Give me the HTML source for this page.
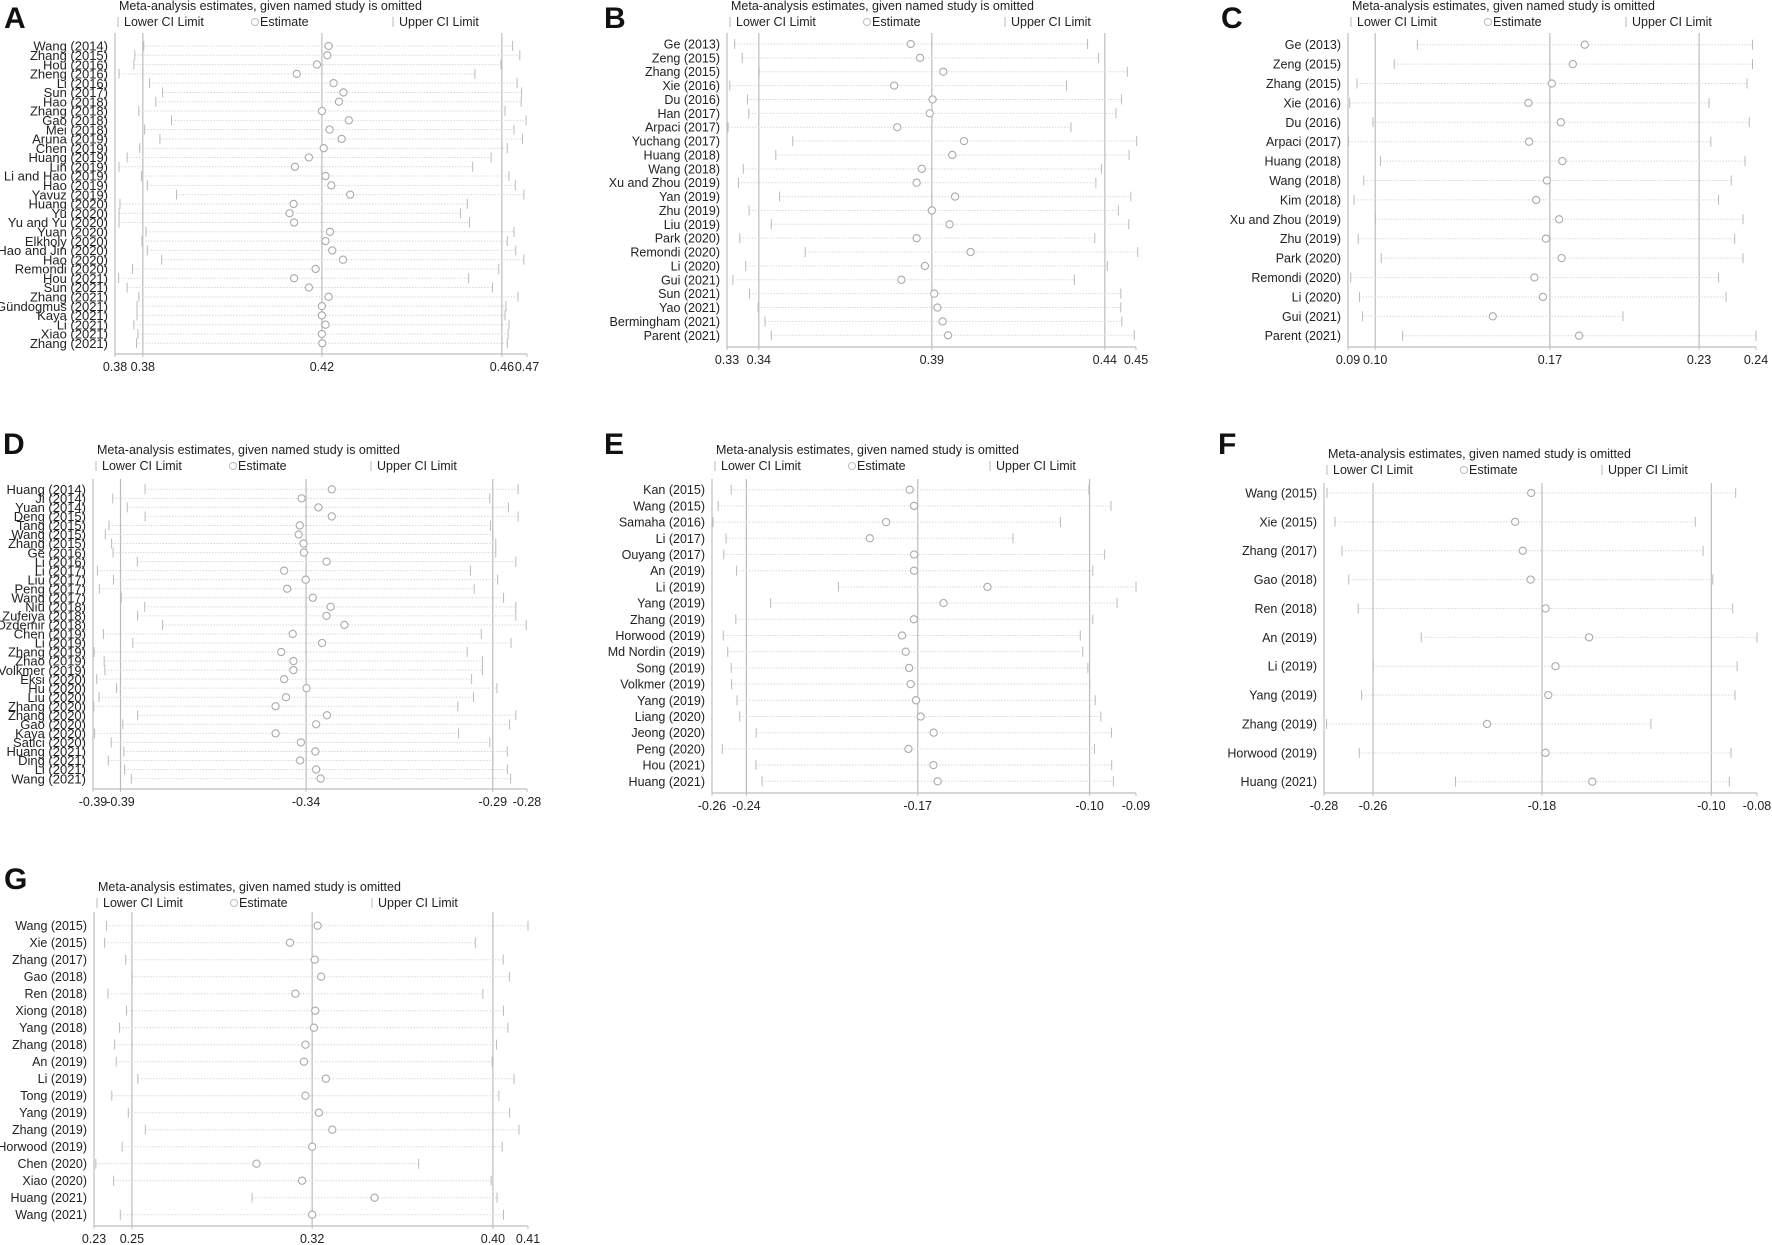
<!DOCTYPE html>
<html><head><meta charset="utf-8"><style>
html,body{margin:0;padding:0;background:#fff;}
svg{display:block;font-family:"Liberation Sans",Arial,sans-serif;}
</style></head><body>
<svg id="fig" width="1772" height="1245" viewBox="0 0 1772 1245" xmlns="http://www.w3.org/2000/svg"></svg>
<script>
// ---------- Panel A ----------
const aNames=["Wang (2014)","Zhang (2015)","Hou (2016)","Zheng (2016)","Li (2016)","Sun (2017)","Hao (2018)","Zhang (2018)","Gao (2018)","Mei (2018)","Aruna (2019)","Chen (2019)","Huang (2019)","Lin (2019)","Li and Hao (2019)","Hao (2019)","Yavuz (2019)","Huang (2020)","Yu (2020)","Yu and Yu (2020)","Yuan (2020)","Elkholy (2020)","Hao and Jin (2020)","Hao (2020)","Remondi (2020)","Hou (2021)","Sun (2021)","Zhang (2021)","Gündogmus (2021)","Kaya (2021)","Li (2021)","Xiao (2021)","Zhang (2021)"];
const aEst=[0.4215,0.4212,0.4189,0.4144,0.4226,0.4248,0.4238,0.4200,0.4260,0.4217,0.4244,0.4204,0.4171,0.4140,0.4208,0.4221,0.4263,0.4137,0.4128,0.4138,0.4218,0.4208,0.4223,0.4247,0.4186,0.4138,0.4171,0.4215,0.4200,0.4200,0.4208,0.4200,0.4201];
const aLo=[0.3803,0.3783,0.3781,0.3748,0.3816,0.3845,0.3830,0.3792,0.3865,0.3805,0.3839,0.3794,0.3766,0.3748,0.3798,0.3811,0.3876,0.3750,0.3748,0.3748,0.3808,0.3799,0.3811,0.3843,0.3778,0.3747,0.3766,0.3792,0.3788,0.3788,0.3781,0.3790,0.3787];
const aHi=[0.4625,0.4641,0.4599,0.4541,0.4635,0.4645,0.4644,0.4608,0.4655,0.4628,0.4647,0.4613,0.4577,0.4536,0.4617,0.4631,0.4650,0.4524,0.4509,0.4529,0.4628,0.4613,0.4632,0.4650,0.4594,0.4527,0.4580,0.4637,0.4610,0.4608,0.4617,0.4615,0.4613];
const aTicks=[0.3739,0.3801,0.4200,0.4601,0.4657];
const aTickLabels=["0.38","0.38","0.42","0.46","0.47"];
// ---------- Panel B ----------
const bNames=["Ge (2013)","Zeng (2015)","Zhang (2015)","Xie (2016)","Du (2016)","Han (2017)","Arpaci (2017)","Yuchang (2017)","Huang (2018)","Wang (2018)","Xu and Zhou (2019)","Yan (2019)","Zhu (2019)","Liu (2019)","Park (2020)","Remondi (2020)","Li (2020)","Gui (2021)","Sun (2021)","Yao (2021)","Bermingham (2021)","Parent (2021)"];
const bEst=[0.3839,0.3866,0.3933,0.3791,0.3902,0.3894,0.3800,0.3993,0.3959,0.3871,0.3856,0.3967,0.3900,0.3951,0.3856,0.4012,0.3880,0.3812,0.3907,0.3916,0.3931,0.3947];
const bLo=[0.3330,0.3352,0.3401,0.3316,0.3367,0.3371,0.3311,0.3498,0.3449,0.3355,0.3341,0.3460,0.3372,0.3436,0.3345,0.3534,0.3362,0.3325,0.3373,0.3398,0.3418,0.3436];
const bHi=[0.4350,0.4382,0.4465,0.4289,0.4448,0.4432,0.4302,0.4492,0.4470,0.4390,0.4374,0.4475,0.4439,0.4469,0.4371,0.4495,0.4407,0.4312,0.4446,0.4446,0.4449,0.4485];
const bTicks=[0.3308,0.3400,0.3900,0.4400,0.4490];
const bTickLabels=["0.33","0.34","0.39","0.44","0.45"];
// ---------- Panel C ----------
const cNames=["Ge (2013)","Zeng (2015)","Zhang (2015)","Xie (2016)","Du (2016)","Arpaci (2017)","Huang (2018)","Wang (2018)","Kim (2018)","Xu and Zhou (2019)","Zhu (2019)","Park (2020)","Remondi (2020)","Li (2020)","Gui (2021)","Parent (2021)"];
const cEst=[0.1840,0.1792,0.1708,0.1614,0.1744,0.1617,0.1750,0.1688,0.1645,0.1737,0.1684,0.1747,0.1638,0.1672,0.1471,0.1817];
const cLo=[0.1169,0.1076,0.0927,0.0898,0.0991,0.0893,0.1021,0.0954,0.0915,0.1001,0.0932,0.1024,0.0902,0.0937,0.0949,0.1110];
const cHi=[0.2512,0.2512,0.2490,0.2338,0.2499,0.2345,0.2482,0.2427,0.2376,0.2474,0.2441,0.2474,0.2376,0.2406,0.1993,0.2526];
const cTicks=[0.0891,0.1000,0.1700,0.2298,0.2526];
const cTickLabels=["0.09","0.10","0.17","0.23","0.24"];
// ---------- Panel D ----------
const dNames=["Huang (2014)","Ji (2014)","Yuan (2014)","Deng (2015)","Tang (2015)","Wang (2015)","Zhang (2015)","Ge (2016)","Li (2016)","Li (2017)","Liu (2017)","Peng (2017)","Wang (2017)","Niu (2018)","Zufeiya (2018)","Ozdemir (2018)","Chen (2019)","Li (2019)","Zhang (2019)","Zhao (2019)","Volkmer (2019)","Eksi (2020)","Hu (2020)","Liu (2020)","Zhang (2020)","Zhang (2020)","Gao (2020)","Kaya (2020)","Satici (2020)","Huang (2021)","Ding (2021)","Li (2021)","Wang (2021)"];
const dEst=[-0.3331,-0.3412,-0.3367,-0.3331,-0.3417,-0.3420,-0.3407,-0.3406,-0.3345,-0.3459,-0.3401,-0.3451,-0.3382,-0.3334,-0.3345,-0.3297,-0.3436,-0.3357,-0.3467,-0.3434,-0.3434,-0.3459,-0.3399,-0.3454,-0.3482,-0.3344,-0.3373,-0.3482,-0.3414,-0.3375,-0.3416,-0.3373,-0.3361];
const dLo=[-0.3833,-0.3920,-0.3881,-0.3833,-0.3930,-0.3940,-0.3923,-0.3919,-0.3854,-0.3961,-0.3918,-0.3956,-0.3897,-0.3834,-0.3853,-0.3786,-0.3945,-0.3866,-0.3970,-0.3943,-0.3941,-0.3963,-0.3910,-0.3957,-0.3971,-0.3853,-0.3893,-0.3969,-0.3924,-0.3890,-0.3932,-0.3888,-0.3870];
const dHi=[-0.2830,-0.2906,-0.2856,-0.2830,-0.2904,-0.2898,-0.2890,-0.2890,-0.2836,-0.2958,-0.2885,-0.2948,-0.2869,-0.2836,-0.2836,-0.2808,-0.2929,-0.2849,-0.2967,-0.2926,-0.2926,-0.2955,-0.2887,-0.2950,-0.2992,-0.2836,-0.2853,-0.2990,-0.2906,-0.2859,-0.2898,-0.2859,-0.2850];
const dTicks=[-0.3973,-0.3899,-0.3400,-0.2898,-0.2806];
const dTickLabels=["-0.39","-0.39","-0.34","-0.29","-0.28"];
// ---------- Panel E ----------
const eNames=["Kan (2015)","Wang (2015)","Samaha (2016)","Li (2017)","Ouyang (2017)","An (2019)","Li (2019)","Yang (2019)","Zhang (2019)","Horwood (2019)","Md Nordin (2019)","Song (2019)","Volkmer (2019)","Yang (2019)","Liang (2020)","Jeong (2020)","Peng (2020)","Hou (2021)","Huang (2021)"];
const eEst=[-0.1733,-0.1715,-0.1829,-0.1895,-0.1715,-0.1715,-0.1416,-0.1595,-0.1716,-0.1764,-0.1749,-0.1735,-0.1729,-0.1707,-0.1688,-0.1635,-0.1738,-0.1636,-0.1619];
const eLo=[-0.2460,-0.2513,-0.2534,-0.2481,-0.2490,-0.2438,-0.2023,-0.2299,-0.2441,-0.2492,-0.2474,-0.2460,-0.2458,-0.2436,-0.2425,-0.2358,-0.2496,-0.2359,-0.2334];
const eHi=[-0.1003,-0.0913,-0.1119,-0.1312,-0.0939,-0.0987,-0.0811,-0.0888,-0.0987,-0.1038,-0.1028,-0.1007,-0.1000,-0.0977,-0.0954,-0.0911,-0.0980,-0.0910,-0.0903];
const eTicks=[-0.2538,-0.2398,-0.1700,-0.1000,-0.0811];
const eTickLabels=["-0.26","-0.24","-0.17","-0.10","-0.09"];
// ---------- Panel F ----------
const fNames=["Wang (2015)","Xie (2015)","Zhang (2017)","Gao (2018)","Ren (2018)","An (2019)","Li (2019)","Yang (2019)","Zhang (2019)","Horwood (2019)","Huang (2021)"];
const fEst=[-0.1851,-0.1927,-0.1891,-0.1854,-0.1783,-0.1577,-0.1736,-0.1770,-0.2060,-0.1783,-0.1562];
const fLo=[-0.2817,-0.2779,-0.2746,-0.2714,-0.2669,-0.2371,-0.2598,-0.2653,-0.2819,-0.2664,-0.2209];
const fHi=[-0.0884,-0.1075,-0.1038,-0.0992,-0.0898,-0.0783,-0.0877,-0.0887,-0.1285,-0.0906,-0.0914];
const fTicks=[-0.2831,-0.2599,-0.1800,-0.0999,-0.0783];
const fTickLabels=["-0.28","-0.26","-0.18","-0.10","-0.08"];
// ---------- Panel G ----------
const gNames=["Wang (2015)","Xie (2015)","Zhang (2017)","Gao (2018)","Ren (2018)","Xiong (2018)","Yang (2018)","Zhang (2018)","An (2019)","Li (2019)","Tong (2019)","Yang (2019)","Zhang (2019)","Horwood (2019)","Chen (2020)","Xiao (2020)","Huang (2021)","Wang (2021)"];
const gEst=[0.3221,0.3114,0.3210,0.3235,0.3135,0.3212,0.3207,0.3174,0.3168,0.3253,0.3174,0.3226,0.3278,0.3200,0.2984,0.3161,0.3442,0.3200];
const gLo=[0.2402,0.2395,0.2477,0.2502,0.2408,0.2480,0.2453,0.2434,0.2440,0.2524,0.2423,0.2487,0.2553,0.2463,0.2361,0.2430,0.2967,0.2456];
const gHi=[0.4037,0.3833,0.3941,0.3965,0.3862,0.3942,0.3959,0.3915,0.3898,0.3983,0.3924,0.3966,0.4002,0.3937,0.3613,0.3894,0.3917,0.3942];
const gTicks=[0.2354,0.2501,0.3200,0.3901,0.4037];
const gTickLabels=["0.23","0.25","0.32","0.40","0.41"];

const panels=[
 {id:"a",letter:"A",lx:4,ly:28,axL:115,axR:527,axY:354,top:33,titleY:10,legY:26,row0:46,step:9.29,fs:13,names:aNames,lo:aLo,est:aEst,hi:aHi,ticks:aTicks,tl:aTickLabels},
 {id:"b",letter:"B",lx:604,ly:28,axL:727,axR:1136,axY:347,top:33,titleY:10,legY:26,row0:44,step:13.87,fs:12.5,names:bNames,lo:bLo,est:bEst,hi:bHi,ticks:bTicks,tl:bTickLabels},
 {id:"c",letter:"C",lx:1221,ly:28,axL:1348,axR:1756,axY:347,top:33,titleY:10,legY:26,row0:44.7,step:19.4,fs:12.5,names:cNames,lo:cLo,est:cEst,hi:cHi,ticks:cTicks,tl:cTickLabels},
 {id:"d",letter:"D",lx:3,ly:454,axL:93,axR:527,axY:789,top:479,titleY:454,legY:470,row0:489.3,step:9.04,fs:13,names:dNames,lo:dLo,est:dEst,hi:dHi,ticks:dTicks,tl:dTickLabels},
 {id:"e",letter:"E",lx:604,ly:454,axL:712,axR:1136,axY:793,top:479,titleY:454,legY:470,row0:489.7,step:16.2,fs:12.5,names:eNames,lo:eLo,est:eEst,hi:eHi,ticks:eTicks,tl:eTickLabels},
 {id:"f",letter:"F",lx:1218,ly:454,axL:1324,axR:1757,axY:793,top:483,titleY:458,legY:474,row0:493,step:28.87,fs:12.5,names:fNames,lo:fLo,est:fEst,hi:fHi,ticks:fTicks,tl:fTickLabels},
 {id:"g",letter:"G",lx:4,ly:889,axL:94,axR:528,axY:1226,top:912,titleY:891,legY:907,row0:925.7,step:17.0,fs:12.5,names:gNames,lo:gLo,est:gEst,hi:gHi,ticks:gTicks,tl:gTickLabels}
];

const svg=document.getElementById('fig');
const NS="http://www.w3.org/2000/svg";
function mk(tag,attrs,parent){const e=document.createElementNS(NS,tag);for(const k in attrs)e.setAttribute(k,attrs[k]);parent.appendChild(e);return e;}

panels.forEach(p=>{
  const g=mk('g',{},svg);
  
  
  const dmin=p.ticks[0],dmax=p.ticks[4];
  const x=v=>p.axL+(v-dmin)/(dmax-dmin)*(p.axR-p.axL);
  const y=i=>p.row0+i*p.step;
  const L=mk('text',{x:p.lx,y:p.ly,'font-size':30,'font-weight':'bold',fill:'#111'},g);L.textContent=p.letter;
  
  
  const T=mk('text',{x:p.axL+4,y:p.titleY,'font-size':12.5,fill:'#222'},g);T.textContent="Meta-analysis estimates, given named study is omitted";
  
  
  const lg=mk('g',{},g);
  
  
  const lb=p.axL+3, lc=p.axL+140, lu=p.axL+278;
  mk('line',{x1:lb,x2:lb,y1:p.legY-9,y2:p.legY+1,stroke:'#bbb','stroke-width':1},lg);
  let t=mk('text',{x:lb+6,y:p.legY,'font-size':12.5,fill:'#222'},lg);t.textContent="Lower CI Limit";
  
  
  mk('circle',{cx:lc,cy:p.legY-4,r:3.5,fill:'none',stroke:'#bbb','stroke-width':1},lg);
  t=mk('text',{x:lc+5,y:p.legY,'font-size':12.5,fill:'#222'},lg);t.textContent="Estimate";
  
  
  mk('line',{x1:lu,x2:lu,y1:p.legY-9,y2:p.legY+1,stroke:'#bbb','stroke-width':1},lg);
  t=mk('text',{x:lu+6,y:p.legY,'font-size':12.5,fill:'#222'},lg);t.textContent="Upper CI Limit";
  
  
  const ax=mk('line',{x1:p.axL,x2:p.axL,y1:p.top,y2:p.axY,stroke:'#bdbdbd','stroke-width':1.2},g);
  
  
  const bx=mk('line',{x1:p.axL,x2:p.axR,y1:p.axY,y2:p.axY,stroke:'#bdbdbd','stroke-width':1.2},g);
  
  
  [1,2,3].forEach(k=>{
    const r=mk('line',{x1:x(p.ticks[k]),x2:x(p.ticks[k]),y1:p.top,y2:p.axY,stroke:'#bcbcbc','stroke-width':1.2},g);
    
    
  });
  p.ticks.forEach((v,k)=>{
    mk('line',{x1:x(v),x2:x(v),y1:p.axY,y2:p.axY+3,stroke:'#bdbdbd'},g);
    const tt=mk('text',{x:x(v),y:p.axY+17,'font-size':12.5,fill:'#222','text-anchor':'middle'},g);
    tt.textContent=p.tl[k];
    
    
  });
  p.names.forEach((n,i)=>{
    const yy=y(i);
    const lab=mk('text',{x:p.axL-7,y:yy+p.fs*0.36,'font-size':p.fs,fill:'#222','text-anchor':'end'},g);
    lab.textContent=n;
    
    
    const ln=mk('line',{x1:x(p.lo[i]),x2:x(p.hi[i]),y1:yy,y2:yy,stroke:'#d8d8d8','stroke-width':1,'stroke-dasharray':'1.5,1.5'},g);
    
    
    const c1=mk('line',{x1:x(p.lo[i]),x2:x(p.lo[i]),y1:yy-5,y2:yy+5,stroke:'#bbb','stroke-width':1},g);
    
    
    const c2=mk('line',{x1:x(p.hi[i]),x2:x(p.hi[i]),y1:yy-5,y2:yy+5,stroke:'#bbb','stroke-width':1},g);
    
    
    const pt=mk('circle',{cx:x(p.est[i]),cy:yy,r:3.6,fill:'#fff',stroke:'#aaa','stroke-width':1.1},g);
    
    
  });
});
</script>
</body></html>
